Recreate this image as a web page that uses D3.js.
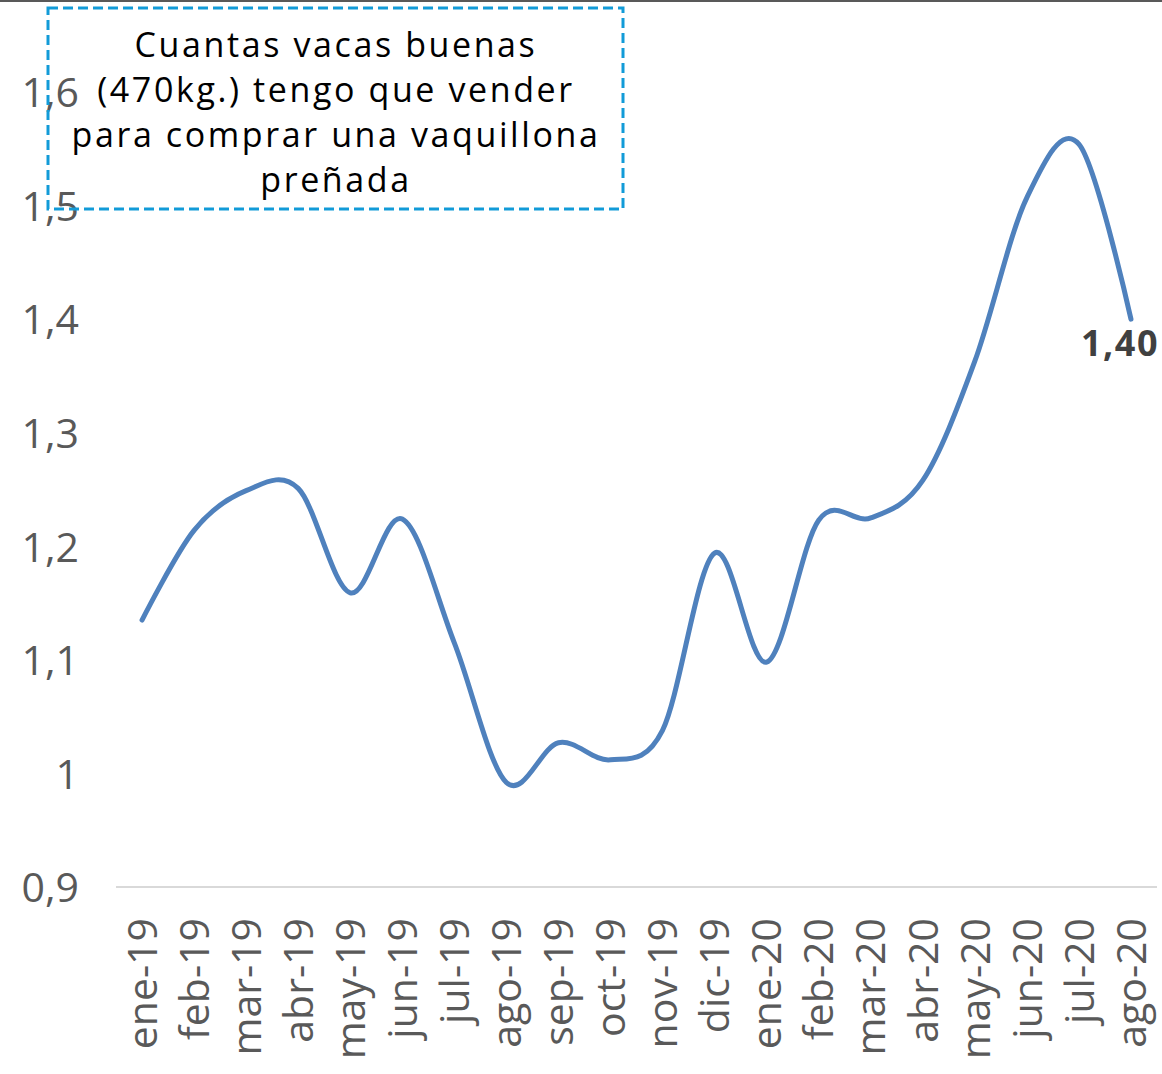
<!DOCTYPE html>
<html>
<head>
<meta charset="utf-8">
<script src="https://cdn.jsdelivr.net/npm/d3@7"></script>
<style>
  html, body { margin: 0; padding: 0; background: #fff; }
  svg { display: block; }
</style>
</head>
<body>
<svg id="chart" width="1162" height="1074"></svg>
<script>
// Monthly series: cows (470 kg) needed to buy one pregnant heifer
const months = ["ene-19","feb-19","mar-19","abr-19","may-19","jun-19","jul-19","ago-19","sep-19","oct-19","nov-19","dic-19",
                "ene-20","feb-20","mar-20","abr-20","may-20","jun-20","jul-20","ago-20"];
const ratio = [1.135, 1.214, 1.249, 1.251, 1.159, 1.224, 1.115, 0.992, 1.027, 1.012, 1.038, 1.194,
               1.098, 1.223, 1.225, 1.258, 1.363, 1.507, 1.554, 1.40];
const yTicks = [0.9, 1.0, 1.1, 1.2, 1.3, 1.4, 1.5, 1.6];
const titleLines = ["Cuantas vacas buenas", "(470kg.) tengo que vender", "para comprar una vaquillona", "preñada"];

const svg = d3.select("#chart");
const W = 1162, H = 1074;
const font = "'Open Sans', 'Noto Sans', sans-serif";
const comma = v => d3.format("~g")(+v.toFixed(2)).replace(".", ",");

const x = d3.scaleBand().domain(months).range([116, 1157]).paddingInner(0).paddingOuter(0);
const cx = d => x(d) + x.bandwidth() / 2;
const y = d3.scaleLinear().domain([0.9, 1.6]).range([887, 92]);

// frame edge along the top
svg.append("rect").attr("x", 0).attr("y", 0).attr("width", W).attr("height", 2).attr("fill", "#595959");

// horizontal axis line at the minimum
svg.append("line")
  .attr("x1", 116).attr("x2", 1157)
  .attr("y1", y(0.9)).attr("y2", y(0.9))
  .attr("stroke", "#d9d9d9").attr("stroke-width", 2);

// y axis labels
const yAxis = d3.axisLeft(y).tickValues(yTicks).tickSize(0).tickPadding(0)
  .tickFormat(d => d === 1 ? "1" : comma(d));
const gy = svg.append("g").attr("transform", "translate(79,0)").call(yAxis);
gy.select(".domain").remove();
gy.selectAll("text")
  .attr("font-family", font).attr("font-size", 41).attr("fill", "#595959")
  .attr("dy", "0.36em");

// x axis labels, rotated
const xAxis = d3.axisBottom(x).tickSize(0).tickPadding(0);
const gx = svg.append("g").attr("transform", "translate(0,918)").call(xAxis);
gx.select(".domain").remove();
gx.selectAll("text")
  .attr("font-family", font).attr("font-size", 41).attr("fill", "#595959")
  .attr("transform", "rotate(-90)")
  .attr("text-anchor", "end")
  .attr("x", 0).attr("y", 0).attr("dy", "0.36em");

// smoothed series line
const line = d3.line()
  .x((d, i) => cx(months[i]))
  .y(d => y(d))
  .curve(d3.curveCardinal.tension(0));
svg.append("path")
  .datum(ratio)
  .attr("d", line)
  .attr("fill", "none")
  .attr("stroke", "#4f81bd")
  .attr("stroke-width", 5)
  .attr("stroke-linecap", "round")
  .attr("stroke-linejoin", "round");

// value label on the last point
const last = ratio.length - 1;
svg.append("text")
  .attr("x", cx(months[last]) - 11)
  .attr("y", y(ratio[last]) + 24)
  .attr("dy", "0.36em")
  .attr("text-anchor", "middle")
  .attr("font-family", font).attr("font-weight", 700).attr("font-size", 36)
  .attr("letter-spacing", 1.5)
  .attr("fill", "#404040")
  .text(ratio[last].toFixed(2).replace(".", ","));

// dashed title box
svg.append("rect")
  .attr("x", 48).attr("y", 8).attr("width", 575).attr("height", 201)
  .attr("fill", "none")
  .attr("stroke", "#129bd8").attr("stroke-width", 3)
  .attr("stroke-dasharray", "10,5");

svg.append("g").selectAll("text")
  .data(titleLines)
  .join("text")
  .attr("x", 336)
  .attr("y", (d, i) => 57 + i * 45)
  .attr("text-anchor", "middle")
  .attr("font-family", font).attr("font-size", 34).attr("fill", "#000")
  .attr("letter-spacing", 2.6)
  .text(d => d);
</script>
</body>
</html>
